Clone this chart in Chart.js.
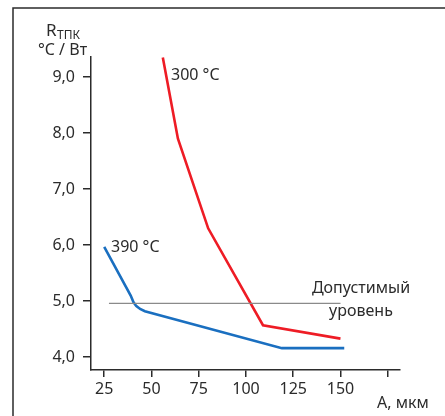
<!DOCTYPE html>
<html>
<head>
<meta charset="utf-8">
<script src="https://cdn.jsdelivr.net/npm/chart.js@4"></script>
<style>
  html, body { margin: 0; padding: 0; background: #fff; }
  #c { display: block; }
</style>
</head>
<body>
<canvas id="c" width="445" height="416"></canvas>
<script>
// data
const redX = [56, 64, 80, 109, 150];
const redY = [9.35, 7.9, 6.3, 4.57, 4.33];
const blueX = [25, 39, 40.5, 42, 44, 46.5, 119, 152];
const blueY = [5.97, 5.1, 4.98, 4.91, 4.86, 4.82, 4.16, 4.16];
const limitX = [27.5, 150];
const limitY = [4.96, 4.96];
const xTicks = [25, 50, 75, 100, 125, 150, 175];
const yTicks = [4, 5, 6, 7, 8, 9];

const FONT = '"Noto Sans", "DejaVu Sans", sans-serif';
const INK = '#2b2b2b';

const pts = (xs, ys) => xs.map((x, i) => ({ x: x, y: ys[i] }));

const decor = {
  id: 'decor',
  beforeDraw(chart) {
    const c = chart.ctx;
    c.save();
    c.strokeStyle = INK;
    c.lineWidth = 1.5;
    c.beginPath();
    c.moveTo(13, 416);
    c.lineTo(13, 8);
    c.lineTo(445, 8);
    c.stroke();
    c.restore();
  },
  afterDraw(chart) {
    const c = chart.ctx;
    const x = chart.scales.x, y = chart.scales.y;
    c.save();
    c.fillStyle = INK;
    c.textBaseline = 'middle';
    c.font = '17px ' + FONT;
    c.textAlign = 'left';
    c.fillText('R', 46, 31);
    c.font = '12px ' + FONT;
    c.fillText('ТПК', 57, 36);
    c.font = '16px ' + FONT;
    c.fillText('°C / Вт', 38, 50);
    c.fillText('300 °C', 171, 75);
    c.fillText('390 °C', 111, 247);
    c.textAlign = 'center';
    c.fillText('Допустимый', 361, 288);
    c.fillText('уровень', 361, 311);
    c.textAlign = 'left';
    c.fillText('А, мкм', 377, 403);
    c.restore();
  }
};

new Chart(document.getElementById('c'), {
  type: 'line',
  data: {
    datasets: [
      { data: pts(limitX, limitY), borderColor: '#8a8a8a', borderWidth: 1.3, pointRadius: 0 },
      { data: pts(blueX, blueY), borderColor: '#1a6fc0', borderWidth: 2.6, pointRadius: 0, tension: 0 },
      { data: pts(redX, redY), borderColor: '#ee1c25', borderWidth: 2.6, pointRadius: 0, tension: 0 }
    ]
  },
  options: {
    responsive: false,
    animation: false,
    layout: { padding: { left: 0, top: 57, right: 45, bottom: 0 } },
    plugins: { legend: { display: false }, tooltip: { enabled: false } },
    scales: {
      x: {
        type: 'linear',
        min: 18,
        max: 181.5,
        afterBuildTicks: s => { s.ticks = xTicks.map(v => ({ value: v })); },
        afterFit: s => { s.height = 46; },
        grid: { drawOnChartArea: false, color: INK, tickLength: 7, lineWidth: 1.5 },
        border: { color: INK, width: 1.5 },
        ticks: {
          color: INK, font: { family: FONT, size: 16 }, padding: 3,
          maxRotation: 0, autoSkip: false,
          callback: v => (v === 175 ? '' : String(v))
        }
      },
      y: {
        min: 3.77,
        max: 9.36,
        afterBuildTicks: s => { s.ticks = yTicks.map(v => ({ value: v })); },
        afterFit: s => { s.width = 91; },
        grid: { drawOnChartArea: false, color: INK, tickLength: 8, lineWidth: 1.5 },
        border: { color: INK, width: 1.5 },
        ticks: {
          color: INK, font: { family: FONT, size: 16 }, padding: 8,
          callback: v => v.toFixed(1).replace('.', ',')
        }
      }
    }
  },
  plugins: [decor]
});
</script>
</body>
</html>
